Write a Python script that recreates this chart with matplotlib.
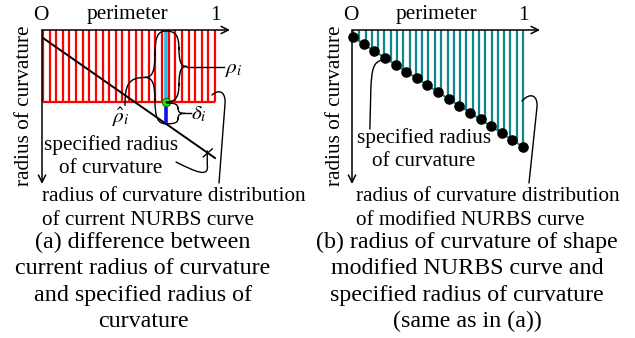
import matplotlib.pyplot as plt
from matplotlib.path import Path
from matplotlib.patches import PathPatch

plt.rcParams['font.family'] = ['Liberation Serif', 'DejaVu Serif']
plt.rcParams['mathtext.fontset'] = 'stix'

# ---- data (perimeter runs 0..1, radius measured downward from the axis) ----
perimeter_a = [0.000, 0.038, 0.077, 0.115, 0.154, 0.192, 0.231, 0.269, 0.308,
               0.346, 0.385, 0.423, 0.462, 0.500, 0.538, 0.577, 0.615, 0.654,
               0.692, 0.731, 0.769, 0.808, 0.846, 0.885, 0.923, 0.962, 1.000]
current_radius = 0.99

spec_perimeter = [0.0, 1.0]
spec_radius = [0.11, 1.76]

sample_p = 0.715        # sample i
sample_rho = 0.99       # rho_i
sample_rho_hat = 1.29   # rho_hat_i

perimeter_b = [0.000, 0.037, 0.074, 0.111, 0.148, 0.185, 0.222, 0.259, 0.296,
               0.333, 0.370, 0.407, 0.444, 0.481, 0.519, 0.556, 0.593, 0.630,
               0.667, 0.704, 0.741, 0.778, 0.815, 0.852, 0.889, 0.926, 0.963,
               1.000]
modified_radius = [0.110, 0.171, 0.232, 0.293, 0.354, 0.415, 0.476, 0.537,
                   0.598, 0.660, 0.721, 0.782, 0.843, 0.904, 0.966, 1.027,
                   1.088, 1.149, 1.210, 1.271, 1.332, 1.393, 1.454, 1.515,
                   1.576, 1.637, 1.698, 1.760]

dot_p = [0.0, 0.0625, 0.125, 0.1875, 0.25, 0.3125, 0.375, 0.4375, 0.5,
         0.5625, 0.625, 0.6875, 0.75, 0.8125, 0.875, 0.9375, 1.0]
dot_r = [0.110, 0.213, 0.316, 0.419, 0.523, 0.626, 0.729, 0.832, 0.935,
         1.038, 1.141, 1.244, 1.348, 1.451, 1.554, 1.657, 1.760]

spec_label = ["specified radius", "of curvature"]
dist_label_a = ["radius of curvature distribution", "of current NURBS curve"]
dist_label_b = ["radius of curvature distribution", "of modified NURBS curve"]
caption_a = ["(a) difference between", "current radius of curvature",
             "and specified radius of", "curvature"]
caption_b = ["(b) radius of curvature of shape", "modified NURBS curve and",
             "specified radius of curvature", "(same as in (a))"]

W, H = 635, 338
fig = plt.figure(figsize=(W / 100, H / 100), dpi=100)


def px_axes(x0, x1, y0, y1):
    return fig.add_axes([x0 / W, 1 - y1 / H, (x1 - x0) / W, (y1 - y0) / H])


# panel axes (data space)
ax_a = px_axes(43, 215, 30, 182)
ax_a.set_xlim(0, 1)
ax_a.set_ylim(2.09, 0)
ax_a.axis('off')

ax_b = px_axes(353, 523, 30, 182)
ax_b.set_xlim(0, 1)
ax_b.set_ylim(2.29, 0)
ax_b.axis('off')

red = '#ff0000'
teal = '#12878a'

ax_a.vlines(perimeter_a, 0, current_radius, color=red, lw=1.6, clip_on=False)
ax_a.hlines(current_radius, 0, 1, color=red, lw=1.6, clip_on=False)
ax_a.plot(spec_perimeter, spec_radius, color='k', lw=1.4, clip_on=False)
ax_a.vlines(sample_p, 0, sample_rho, color='#33b5e5', lw=2.6, zorder=3)
ax_a.vlines(sample_p, sample_rho, sample_rho_hat, color='#1010ee', lw=2.6, zorder=3)
ax_a.plot(sample_p, sample_rho, 'o', ms=6, mfc='#22dd22', mec='#117711',
          mew=0.8, zorder=4, clip_on=False)

ax_b.vlines(perimeter_b, 0, modified_radius, color=teal, lw=1.6, clip_on=False)
ax_b.plot(spec_perimeter, spec_radius, color=teal, lw=1.4, clip_on=False)
ax_b.plot(dot_p, dot_r, 'o', color='k', ms=6.6, clip_on=False, zorder=3)

# overlay in pixel coordinates for axes, braces, leaders and text
ov = fig.add_axes([0, 0, 1, 1])
ov.set_xlim(0, W)
ov.set_ylim(H, 0)
ov.axis('off')


def to_px(ax, x, y):
    return ov.transData.inverted().transform(ax.transData.transform((x, y)))


def curve(pts, codes, lw=1.0):
    ov.add_patch(PathPatch(Path(pts, codes), fc='none', ec='k', lw=lw,
                           capstyle='round', joinstyle='round'))


def brace(x, y0, y1, s, a, lw=1.0):
    # curly brace beside a vertical span; s = offset of the stem, a = tip
    ym = (y0 + y1) / 2
    r = (y1 - y0) * 0.26
    M, C, L = Path.MOVETO, Path.CURVE4, Path.LINETO
    pts = [(x, y0), (x + s * 0.75, y0), (x + s, y0 + r * 0.25), (x + s, y0 + r),
           (x + s, ym - r),
           (x + s, ym - r * 0.25), (x + s + (a - s) * 0.25, ym), (x + a, ym),
           (x + s + (a - s) * 0.25, ym), (x + s, ym + r * 0.25), (x + s, ym + r),
           (x + s, y1 - r),
           (x + s, y1 - r * 0.25), (x + s * 0.75, y1), (x, y1)]
    codes = [M, C, C, C, L, C, C, C, C, C, C, L, C, C, C]
    curve(pts, codes, lw)
    return x + a, ym


def lines(x, y, texts, step, ha, size):
    for i, t in enumerate(texts):
        ov.text(x, y + step * i, t, fontsize=size, ha=ha, va='baseline')


arrow = dict(arrowstyle='->', lw=1.1, color='k', shrinkA=0, shrinkB=0,
             mutation_scale=13)
fs = 15.3
cap_fs = 17.3

for ax, x_end, ytxt in [(ax_a, 230, 106), (ax_b, 540, 106)]:
    ox, oy = to_px(ax, 0, 0)
    ov.annotate('', xy=(x_end, oy), xytext=(ox - 1, oy), arrowprops=arrow)
    ov.annotate('', xy=(ox - 1, 184), xytext=(ox - 1, oy), arrowprops=arrow)
    one_x, _ = to_px(ax, 1, 0)
    ov.text(ox - 2, 16, 'O', fontsize=fs, ha='center', va='center')
    ov.text(one_x, 16, '1', fontsize=fs, ha='center', va='center')
    ov.text((ox + one_x) / 2 - 2, 15, 'perimeter', fontsize=fs, ha='center', va='center')
    ov.text(ox - 18, ytxt, 'radius of curvature', fontsize=fs, rotation=90,
            ha='center', va='center')

# ---- panel (a) annotations ----
sx, top_y = to_px(ax_a, sample_p, 0)
_, rho_y = to_px(ax_a, sample_p, sample_rho)
_, hat_y = to_px(ax_a, sample_p, sample_rho_hat)

ax_r, ay_r = brace(sx, top_y + 1, rho_y, 13, 21)
ov.plot([ax_r, ax_r + 37], [ay_r, ay_r], color='k', lw=1.0)
ov.text(ax_r + 38, ay_r + 3, r'$\rho_i$', fontsize=fs, ha='left', va='center')

ax_l, ay_l = brace(sx, top_y + 1, hat_y, -11, -21)
curve([(ax_l, ay_l), (ax_l - 17, ay_l), (ax_l - 20, ay_l + 8), (ax_l - 20, ay_l + 28)],
      [Path.MOVETO, Path.CURVE4, Path.CURVE4, Path.CURVE4])
ov.text(ax_l - 24, ay_l + 40, r'$\hat{\rho}_i$', fontsize=fs, ha='center', va='center')

dx, dy = brace(sx + 1, rho_y + 1, hat_y, 11, 18)
ov.plot([dx, dx + 6], [dy, dy], color='k', lw=1.0)
ov.text(dx + 6, dy + 1, r'$\delta_i$', fontsize=fs, ha='left', va='center')

cx, cy = to_px(ax_a, 0.955, 1.69)
curve([(176, 162), (196, 172), (cx + 2, 178), (cx, cy + 12), (cx, cy - 2)],
      [Path.MOVETO, Path.CURVE4, Path.CURVE4, Path.CURVE4, Path.LINETO])
ov.plot([cx - 4, cx + 5], [cy + 4, cy - 4], color='k', lw=1.0)
lines(111, 150, spec_label, 23, 'center', fs)

curve([(212, 95), (220, 88), (226, 93), (225, 104), (219, 183)],
      [Path.MOVETO, Path.CURVE4, Path.CURVE4, Path.CURVE4, Path.LINETO])
lines(42, 201, dist_label_a, 24, 'left', fs)

# ---- panel (b) annotations ----
lx, ly = to_px(ax_b, dot_p[3], dot_r[3])
curve([(lx - 2, ly + 2), (lx - 12, ly + 4), (lx - 13, ly + 12), (lx - 14, ly + 30),
       (lx - 15, 129)],
      [Path.MOVETO, Path.CURVE4, Path.CURVE4, Path.CURVE4, Path.LINETO])
lines(424, 143, spec_label, 23, 'center', fs)

curve([(522, 101), (530, 92), (538, 95), (537, 107), (529, 183)],
      [Path.MOVETO, Path.CURVE4, Path.CURVE4, Path.CURVE4, Path.LINETO])
lines(356, 201, dist_label_b, 24, 'left', fs)

# ---- captions ----
lines(143, 248, caption_a, 26.4, 'center', cap_fs)
lines(467, 248, caption_b, 26.4, 'center', cap_fs)

fig.savefig('out.png', dpi=100)
